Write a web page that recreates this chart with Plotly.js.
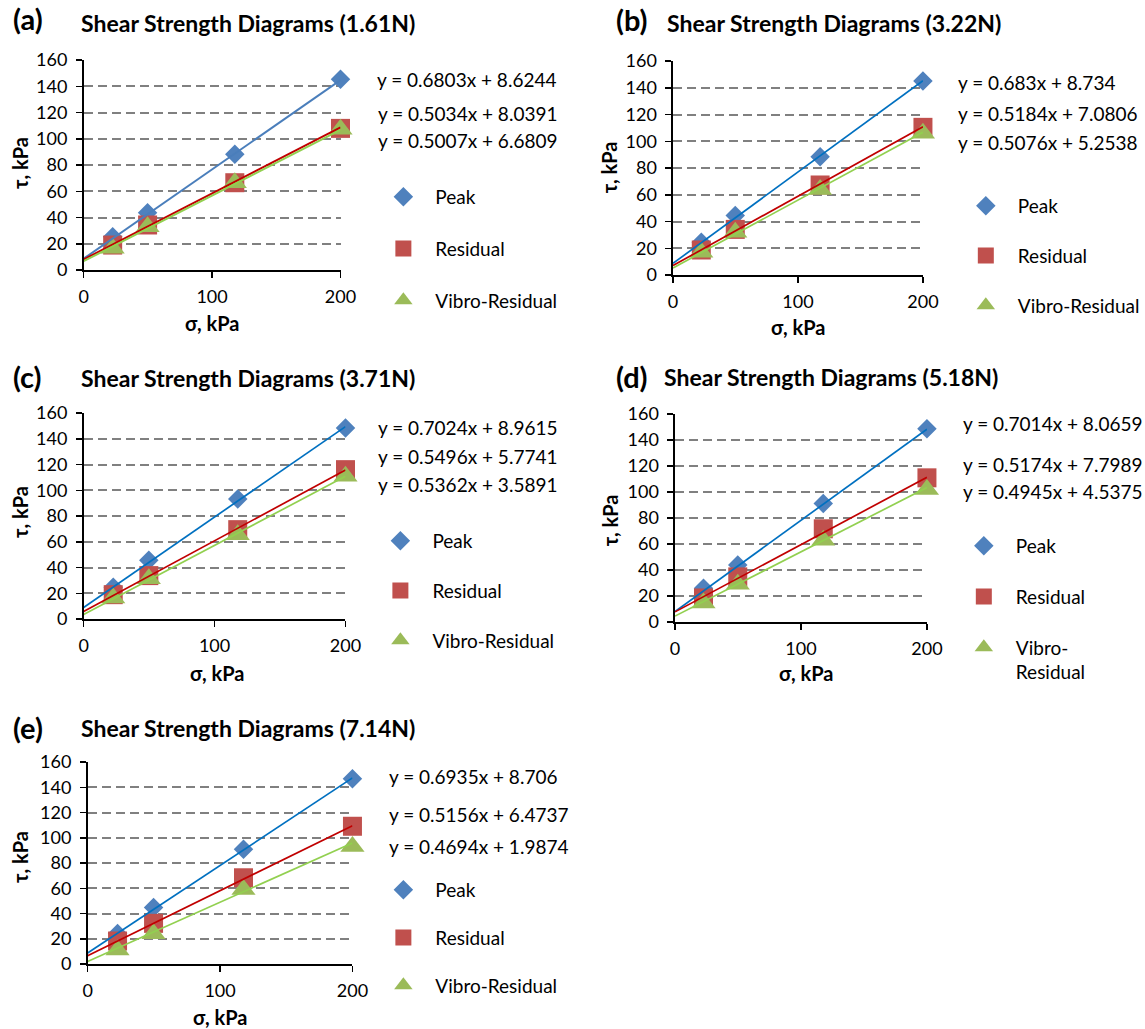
<!DOCTYPE html>
<html><head><meta charset="utf-8">
<script src="https://cdn.plot.ly/plotly-3.0.1.min.js"></script>
<style>html,body{margin:0;padding:0;background:#fff}#chart{width:1145px;height:1029px}</style>
</head><body><div id="chart"></div>
<script>
// ---------- data ----------
const sigma = [22.6, 49.8, 117.7, 200];
const panelLetters = ['(a)', '(b)', '(c)', '(d)', '(e)'];
const panelLoads = ['1.61N', '3.22N', '3.71N', '5.18N', '7.14N'];
const seriesNames = ['Peak', 'Residual', 'Vibro-Residual'];

const peakA = [25.4, 43.7, 88.1, 145.3];
const resA  = [19.0, 34.3, 66.5, 107.9];
const vibA  = [16.5, 33.0, 66.5, 107.2];

const peakB = [24.4, 44.4, 88.5, 145.0];
const resB  = [18.7, 34.1, 67.3, 110.4];
const vibB  = [17.0, 31.9, 63.9, 105.9];

const peakC = [24.6, 45.6, 93.2, 148.3];
const resC  = [18.9, 33.7, 69.4, 116.0];
const vibC  = [16.3, 31.3, 65.5, 110.8];

const peakD = [25.9, 43.9, 91.2, 148.6];
const resD  = [18.5, 34.7, 71.7, 110.9];
const vibD  = [14.6, 29.0, 62.9, 102.0];

const peakE = [24.2, 44.8, 90.9, 146.8];
const resE  = [18.2, 32.2, 68.3, 109.1];
const vibE  = [11.1, 24.0, 59.0, 93.0];

// linear trendline fits (slope, intercept) for Peak, Residual, Vibro-Residual
const slopesA = [0.6803, 0.5034, 0.5007], interceptsA = [8.6244, 8.0391, 6.6809];
const slopesB = [0.683, 0.5184, 0.5076],  interceptsB = [8.734, 7.0806, 5.2538];
const slopesC = [0.7024, 0.5496, 0.5362], interceptsC = [8.9615, 5.7741, 3.5891];
const slopesD = [0.7014, 0.5174, 0.4945], interceptsD = [8.0659, 7.7989, 4.5375];
const slopesE = [0.6935, 0.5156, 0.4694], interceptsE = [8.706, 6.4737, 1.9874];

const trendX = [0, 200];
const xTicks = [0, 100, 200];
const yTicks = [0, 20, 40, 60, 80, 100, 120, 140, 160];
const xTitle = 'σ, kPa';
const yTitle = 'τ, kPa';

// ---------- layout / style ----------
const W = 1145, H = 1029;
const fx = p => p / W;
const fy = p => 1 - p / H;
const FONT = 'Lato, Carlito, Calibri, sans-serif';

const panels = [
  {peak: peakA, res: resA, vib: vibA, m: slopesA, b: interceptsA,
   dom: [84, 342, 60, 270], letter: [11, 19], title: [79, 23],
   eq: [[377, 79], [378, 114], [378, 140]], leg: [373, 178, 24], ytl: [20, 163], xtl: [213, 323], peakLine: '#4A7EBB'},
  {peak: peakB, res: resB, vib: vibB, m: slopesB, b: interceptsB,
   dom: [676, 927, 61, 275], letter: [617, 20], title: [668, 23],
   eq: [[960, 82], [960, 114], [960, 142]], leg: [958, 187, 22], ytl: [612, 167], xtl: [802, 327], peakLine: '#0070C0'},
  {peak: peakC, res: resC, vib: vibC, m: slopesC, b: interceptsC,
   dom: [84, 347, 413, 619], letter: [11, 376], title: [79, 378],
   eq: [[378, 427], [378, 456], [378, 485]], leg: [370, 522, 22], ytl: [20, 512], xtl: [218, 673], peakLine: '#0070C0'},
  {peak: peakD, res: resD, vib: vibD, m: slopesD, b: interceptsD,
   dom: [678, 931, 414, 622], letter: [617, 377], title: [665, 377],
   eq: [[965, 423], [965, 465], [965, 491]], leg: [956, 527, 23], ytl: [613, 520], xtl: [810, 673], peakLine: '#0070C0',
   names: ['Peak', 'Residual', 'Vibro-<br>Residual']},
  {peak: peakE, res: resE, vib: vibE, m: slopesE, b: interceptsE,
   dom: [88, 354, 762, 964], letter: [11, 727], title: [79, 728],
   eq: [[389, 776], [389, 814], [389, 846]], leg: [373, 871, 20], ytl: [20, 857], xtl: [221, 1017], peakLine: '#0070C0'}
];

const markerStyles = [
  {symbol: 'diamond', size: 15, color: '#4F81BD'},
  {symbol: 'square', size: 19, color: '#C0504D'},
  {symbol: 'triangle-up', size: 21, color: '#9BBB59'}
];
const lineColors = [null, '#C00000', '#92D050'];

const data = [];
const layout = {
  width: W, height: H,
  margin: {l: 0, r: 0, t: 0, b: 0},
  paper_bgcolor: '#fff', plot_bgcolor: 'rgba(0,0,0,0)',
  font: {family: FONT, size: 16, color: '#000'},
  showlegend: true,
  annotations: []
};

panels.forEach((p, i) => {
  const k = i === 0 ? '' : String(i + 1);
  const xa = 'x' + k, ya = 'y' + k;
  const legName = 'legend' + k;
  const names = p.names || seriesNames;
  const ys = [p.peak, p.res, p.vib];

  ys.forEach((yv, s) => {
    data.push({
      type: 'scatter', mode: 'markers', x: sigma, y: yv,
      xaxis: xa, yaxis: ya, name: names[s], legend: legName, legendgroup: 'g' + i + s,
      marker: {symbol: markerStyles[s].symbol, size: markerStyles[s].size, color: markerStyles[s].color,
               line: {width: 0}},
      cliponaxis: false, hoverinfo: 'x+y'
    });
  });
  ys.forEach((yv, s) => {
    data.push({
      type: 'scatter', mode: 'lines', x: trendX,
      y: trendX.map(x => p.m[s] * x + p.b[s]),
      xaxis: xa, yaxis: ya, showlegend: false, cliponaxis: false,
      line: {color: s === 0 ? p.peakLine : lineColors[s], width: i === 0 ? 2 : 1.7},
      hoverinfo: 'skip'
    });
  });

  const [x0, x1, y1, y0] = p.dom;
  layout['xaxis' + k] = {
    domain: [fx(x0), fx(x1)], anchor: ya, range: [0, 200],
    tickvals: xTicks, ticks: 'outside', ticklen: 6, tickwidth: 1.5, tickcolor: '#000',
    showline: true, linecolor: '#000', linewidth: 1.6, showgrid: false, zeroline: false,
    tickfont: {family: FONT, size: 18, color: '#000'}, ticklabelstandoff: 4, fixedrange: true
  };
  layout['yaxis' + k] = {
    domain: [fy(y0), fy(y1)], anchor: xa, range: [0, 160],
    tickvals: yTicks, ticks: 'outside', ticklen: 6, tickwidth: 1.5, tickcolor: '#000',
    showline: true, linecolor: '#000', linewidth: 1.6, zeroline: false,
    showgrid: true, gridcolor: '#808080', gridwidth: 2, griddash: '9px,5px',
    tickfont: {family: FONT, size: 18, color: '#000'}, ticklabelstandoff: 5, fixedrange: true
  };
  layout[legName] = {
    x: fx(p.leg[0]), y: fy(p.leg[1]), xanchor: 'left', yanchor: 'top',
    bgcolor: 'rgba(0,0,0,0)', borderwidth: 0, itemwidth: 54,
    traceorder: 'grouped', tracegroupgap: p.leg[2], valign: 'top',
    font: {family: FONT, size: 19, color: '#000'}
  };

  const A = layout.annotations;
  A.push({xref: 'paper', yref: 'paper', x: fx(p.letter[0]), y: fy(p.letter[1]), xanchor: 'left', yanchor: 'middle',
          text: '<b>' + panelLetters[i] + '</b>', showarrow: false, font: {family: FONT, size: 29, color: '#000'}});
  A.push({xref: 'paper', yref: 'paper', x: fx(p.title[0]), y: fy(p.title[1]), xanchor: 'left', yanchor: 'middle',
          text: '<b>Shear Strength Diagrams (' + panelLoads[i] + ')</b>', showarrow: false,
          font: {family: FONT, size: 23, color: '#000'}});
  p.eq.forEach((e, s) => {
    A.push({xref: 'paper', yref: 'paper', x: fx(e[0]), y: fy(e[1]), xanchor: 'left', yanchor: 'middle',
            text: 'y = ' + p.m[s] + 'x + ' + p.b[s], showarrow: false, font: {family: FONT, size: 19, color: '#000'}});
  });
  A.push({xref: 'paper', yref: 'paper', x: fx(p.ytl[0]), y: fy(p.ytl[1]), xanchor: 'center', yanchor: 'middle',
          text: '<b>' + yTitle + '</b>', textangle: -90, showarrow: false, font: {family: FONT, size: 20, color: '#000'}});
  A.push({xref: 'paper', yref: 'paper', x: fx(p.xtl[0]), y: fy(p.xtl[1]), xanchor: 'center', yanchor: 'middle',
          text: '<b>' + xTitle + '</b>', showarrow: false, font: {family: FONT, size: 20, color: '#000'}});
});

Plotly.newPlot('chart', data, layout, {staticPlot: true, displayModeBar: false});
</script>
</body></html>
